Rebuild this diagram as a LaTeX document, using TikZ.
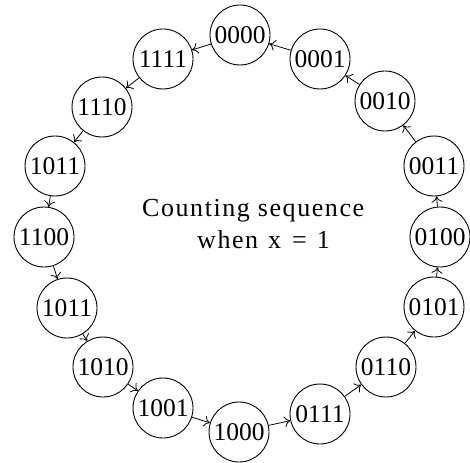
\documentclass[tikz,border=0pt]{standalone}
\usepackage{fontspec}
\setmainfont{Liberation Serif}
\newfontfamily\spaced[LetterSpace=6]{Liberation Serif}
\usetikzlibrary{arrows.meta}
\begin{document}
\begin{tikzpicture}[x=1pt,y=-1pt,
  st/.style={draw,circle,line width=0.9pt,minimum size=60pt,inner sep=0pt,font=\fontsize{25.5}{28}\selectfont},
  arr/.style={line width=0.8pt,-{To[length=6pt,width=11pt]}},
  lbl/.style={inner sep=0pt,font=\spaced\fontsize{26}{30}\selectfont}]
\useasboundingbox (0,0) rectangle (470,462);
\node[st] (s0000) at (240,35) {0000};
\node[st] (s0001) at (320,59) {0001};
\node[st] (s0010) at (385,101) {0010};
\node[st] (s0011) at (434,166) {0011};
\node[st] (s0100) at (440,237) {0100};
\node[st] (s0101) at (434,307) {0101};
\node[st] (s0110) at (386,367) {0110};
\node[st] (s0111) at (320,414) {0111};
\node[st] (s1000) at (239,432) {1000};
\node[st] (s1001) at (163,408) {1001};
\node[st] (s1010) at (103,367) {1010};
\node[st] (s1011b) at (67,308) {1011};
\node[st] (s1100) at (44,237) {1100};
\node[st] (s1011a) at (55,166) {1011};
\node[st] (s1110) at (102,107) {1110};
\node[st] (s1111) at (163,59) {1111};
\draw[arr] (s0001) -- (s0000);
\draw[arr] (s0010) -- (s0001);
\draw[arr] (s0011) -- (s0010);
\draw[arr] (s0100) -- (s0011);
\draw[arr] (s0101) -- (s0100);
\draw[arr] (s0110) -- (s0101);
\draw[arr] (s0111) -- (s0110);
\draw[arr] (s1000) -- (s0111);
\draw[arr] (s1001) -- (s1000);
\draw[arr] (s1010) -- (s1001);
\draw[arr] (s1011b) -- (s1010);
\draw[arr] (s1100) -- (s1011b);
\draw[arr] (s1011a) -- (s1100);
\draw[arr] (s1110) -- (s1011a);
\draw[arr] (s1111) -- (s1110);
\draw[arr] (s0000) -- (s1111);
\node[lbl,anchor=base west] (t1) at (142,216) {Counting sequence};
\node[lbl,anchor=base west] (t2) at (197,248) {when\hspace{10pt}x\hspace{11pt}=\hspace{10pt}1};
\end{tikzpicture}
\end{document}
